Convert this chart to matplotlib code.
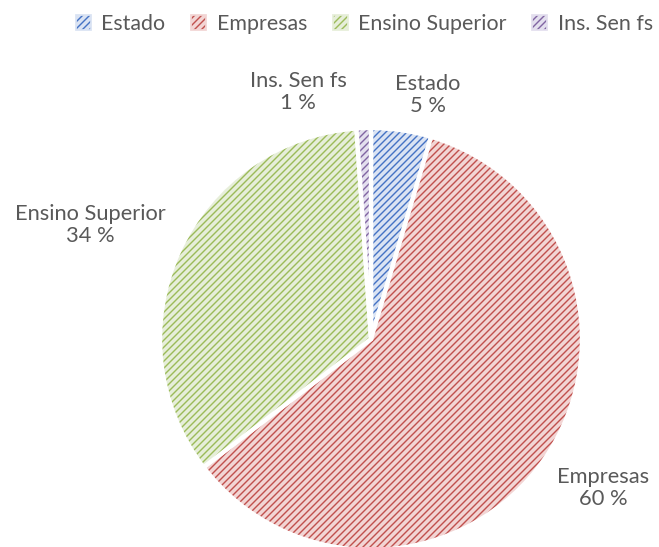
import matplotlib
matplotlib.use('Agg')
import matplotlib.pyplot as plt
from matplotlib.patches import Patch

categories = ['Estado', 'Empresas', 'Ensino Superior', 'Ins. Sen fs']
shares = [4.6, 60.0, 34.3, 1.1]
face_colors = ['#dae3f3', '#f2d5d4', '#e6eed9', '#e3dfee']
hatch_colors = ['#4472c4', '#c0504d', '#9bbb59', '#8064a2']

dpi = 126
plt.rcParams['font.family'] = ['Lato', 'DejaVu Sans']
plt.rcParams['hatch.linewidth'] = 0.8
text_color = '#595959'
hatch = '//////'

fig = plt.figure(figsize=(659 / dpi, 547 / dpi), dpi=dpi)
ax = fig.add_axes([0, 0, 1, 1])

# pie drawn clockwise from 12 o'clock
wedges, _ = ax.pie(shares, startangle=90, counterclock=False,
                   center=(371, 208), radius=211, frame=True,
                   wedgeprops=dict(edgecolor='white', linewidth=2.5))
for w, fc, hc in zip(wedges, face_colors, hatch_colors):
    w.set_facecolor(fc)
    w.set_hatch(hatch)
    w._hatch_color = matplotlib.colors.to_rgba(hc)
ax.set_xlim(0, 659)
ax.set_ylim(0, 547)
ax.set_aspect('equal')
ax.axis('off')

# data labels
label_pos = [(428, 452), (603, 59), (90, 322), (298, 455)]
for name, val, (x, y) in zip(categories, shares, label_pos):
    ax.text(x, y, f'{name}\n{round(val):d} %', ha='center', va='center',
            fontsize=12.5, color=text_color, linespacing=1.1)

handles = []
for name, fc, hc in zip(categories, face_colors, hatch_colors):
    p = Patch(facecolor=fc, hatch=hatch, edgecolor=fc, label=name)
    p._hatch_color = matplotlib.colors.to_rgba(hc)
    handles.append(p)
fig.legend(handles=handles, loc='upper center', bbox_to_anchor=(0.553, 1.01),
           ncol=4, frameon=False, fontsize=12.2, labelcolor=text_color,
           handlelength=0.7, handleheight=0.7, handletextpad=0.5,
           columnspacing=1.2)

fig.savefig('out.png', dpi=dpi)
